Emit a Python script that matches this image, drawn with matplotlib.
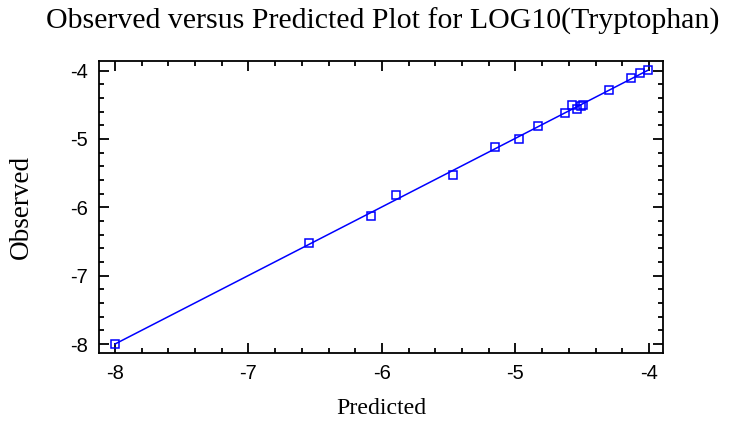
import matplotlib.pyplot as plt
import numpy as np
from matplotlib.ticker import MultipleLocator

plt.rcParams['axes.unicode_minus'] = False

predicted = [-8.0, -6.55, -6.08, -5.895, -5.47, -5.15, -4.975, -4.835, -4.63,
             -4.58, -4.537, -4.51, -4.497, -4.30, -4.137, -4.067, -4.01]
observed = [-8.0, -6.52, -6.13, -5.815, -5.52, -5.11, -4.995, -4.81, -4.62,
            -4.51, -4.56, -4.52, -4.51, -4.29, -4.11, -4.04, -3.99]

blue = '#0000ff'

fig = plt.figure(figsize=(7.31, 4.24), dpi=100)
ax = fig.add_axes([0.1354, 0.1675, 0.7716, 0.6885])

# fitted line over the predicted range
slope, icpt = np.polyfit(predicted, observed, 1)
xl = np.array([min(predicted), max(predicted)])
ax.plot(xl, slope * xl + icpt, color=blue, lw=1.1)
ax.plot(predicted, observed, 's', mfc='none', mec=blue, ms=5.5, mew=1.1)

ax.set_xlim(-8.12, -3.895)
ax.set_ylim(-8.13, -3.86)
ax.xaxis.set_major_locator(MultipleLocator(1))
ax.xaxis.set_minor_locator(MultipleLocator(0.2))
ax.yaxis.set_major_locator(MultipleLocator(1))
ax.yaxis.set_minor_locator(MultipleLocator(0.2))
ax.tick_params(which='both', direction='in', top=True, right=True, width=1.3)
ax.tick_params(which='major', length=7, labelsize=14.5, pad=8)
ax.tick_params(which='minor', length=3.5)
for lab in ax.get_xticklabels() + ax.get_yticklabels():
    lab.set_family('Liberation Sans')
for s in ax.spines.values():
    s.set_linewidth(1.3)

ax.set_xlabel('Predicted', family='Liberation Serif', fontsize=17.2, labelpad=11)
ax.set_ylabel('Observed', family='Liberation Serif', fontsize=19.5, labelpad=26)
fig.text(0.524, 0.95, 'Observed versus Predicted Plot for LOG10(Tryptophan)',
         family='Liberation Serif', fontsize=21.5, ha='center', va='center')

fig.savefig('out.png', dpi=100)
